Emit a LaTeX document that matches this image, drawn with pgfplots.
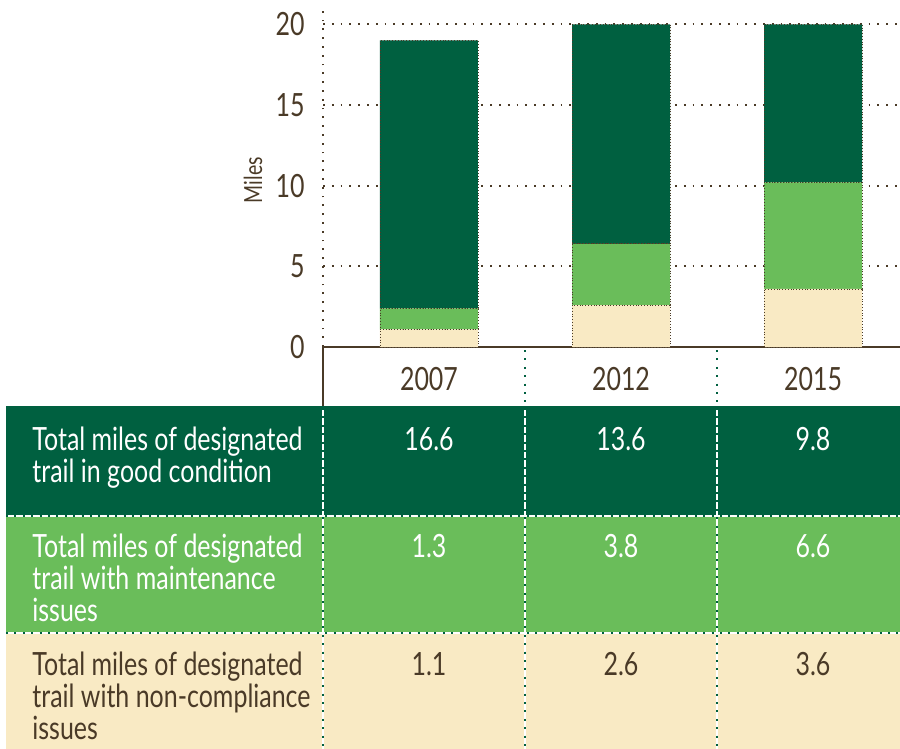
\documentclass[border=0pt]{standalone}
\usepackage{fontspec}
\setmainfont{Lato}[FakeStretch=0.78]
\usepackage{pgfplots}
\pgfplotsset{compat=1.18}

\definecolor{dgreen}{RGB}{0,96,64}
\definecolor{lgreen}{RGB}{106,189,90}
\definecolor{cream}{RGB}{249,234,196}
\definecolor{ink}{RGB}{74,58,39}

\pgfplotstableread{
x good maint noncomp
0 16.6 1.3 1.1
1 13.6 3.8 2.6
2 9.8  6.6 3.6
}\trails

\tikzset{
  dotline/.style={dash pattern=on 0.9pt off 3.5pt, line width=0.9pt},
  sep/.style={draw=white, line width=1pt},
  sepdots/.style={draw=dgreen, line width=1pt, dash pattern=on 1pt off 3.2pt},
}

\begin{document}
\begin{tikzpicture}
\useasboundingbox (0,0) rectangle (450pt,-374.5pt);
\begin{axis}[
  at={(161.5pt,-173.5pt)}, anchor=south west,
  scale only axis, width=288.5pt, height=171pt,
  ybar stacked, bar width=49pt,
  xmin=-0.552, xmax=2.453, ymin=0, ymax=21.2,
  axis x line*=bottom, axis y line*=left,
  x axis line style={ink, line width=1.1pt, solid},
  y axis line style={ink, dotline},
  xtick={0,1,2}, xticklabels={2007,2012,2015},
  ytick={0,5,10,15,20},
  major tick length=0pt,
  ymajorgrids, grid style={ink, dotline},
  xticklabel style={anchor=base, yshift=-21.5pt, font=\fontsize{16}{16}\selectfont, text=ink},
  yticklabel style={anchor=east, inner sep=0pt, xshift=-9pt, font=\fontsize{16}{16}\selectfont, text=ink},
  /pgf/number format/assume math mode=true,
  ylabel={\fontsize{12.5}{12.5}\selectfont Miles},
  every axis y label/.style={at={(axis description cs:0,0.488)}, xshift=-35pt, rotate=90, anchor=center, text=ink},
]
\addplot+[fill=cream, draw=ink, densely dotted, line width=0.4pt] table[x=x, y=noncomp] {\trails};
\addplot+[fill=lgreen, draw=ink, densely dotted, line width=0.4pt] table[x=x, y=maint] {\trails};
\addplot+[fill=dgreen, draw=ink, densely dotted, line width=0.4pt] table[x=x, y=good] {\trails};
\end{axis}

\begin{scope}[x=0.5pt, y=-0.5pt]
  % left border of the year row
  \draw[ink, line width=1.1pt] (323,347) -- (323,406);
  % row backgrounds
  \fill[dgreen] (6,406) rectangle (900,516);
  \fill[lgreen] (6,516) rectangle (900,633);
  \fill[cream]  (6,633) rectangle (900,749);
  % vertical separators in the year row
  \foreach \xx in {525,717} \draw[sepdots] (\xx,350) -- (\xx,406);
  % dotted separators
  \draw[sep] (6,516) -- (900,516);
  \draw[sep] (6,633) -- (900,633);
  \foreach \xx in {323,525,717} \draw[sep] (\xx,408) -- (\xx,749);
  \draw[sepdots] (6,516) -- (900,516);
  \draw[sepdots] (6,633) -- (900,633);
  \foreach \xx in {323,525,717} \draw[sepdots] (\xx,408) -- (\xx,749);
  % row labels
  \begin{scope}[every node/.style={anchor=base west, inner sep=0pt, font=\fontsize{16}{16}\selectfont}]
    \node[text=white] at (32,450) {Total miles of designated};
    \node[text=white] at (32,482) {trail in good condition};
    \node[text=white] at (32,557) {Total miles of designated};
    \node[text=white] at (32,589) {trail with maintenance};
    \node[text=white] at (32,621) {issues};
    \node[text=ink] at (32,675) {Total miles of designated};
    \node[text=ink] at (32,707) {trail with non-compliance};
    \node[text=ink] at (32,739) {issues};
  \end{scope}
  % values
  \begin{scope}[every node/.style={anchor=base, inner sep=0pt, font=\fontsize{16}{16}\selectfont}]
    \node[text=white] at (429,450) {16.6};
    \node[text=white] at (621,450) {13.6};
    \node[text=white] at (813,450) {9.8};
    \node[text=white] at (429,557) {1.3};
    \node[text=white] at (621,557) {3.8};
    \node[text=white] at (813,557) {6.6};
    \node[text=ink] at (429,675) {1.1};
    \node[text=ink] at (621,675) {2.6};
    \node[text=ink] at (813,675) {3.6};
  \end{scope}
\end{scope}
\end{tikzpicture}
\end{document}
